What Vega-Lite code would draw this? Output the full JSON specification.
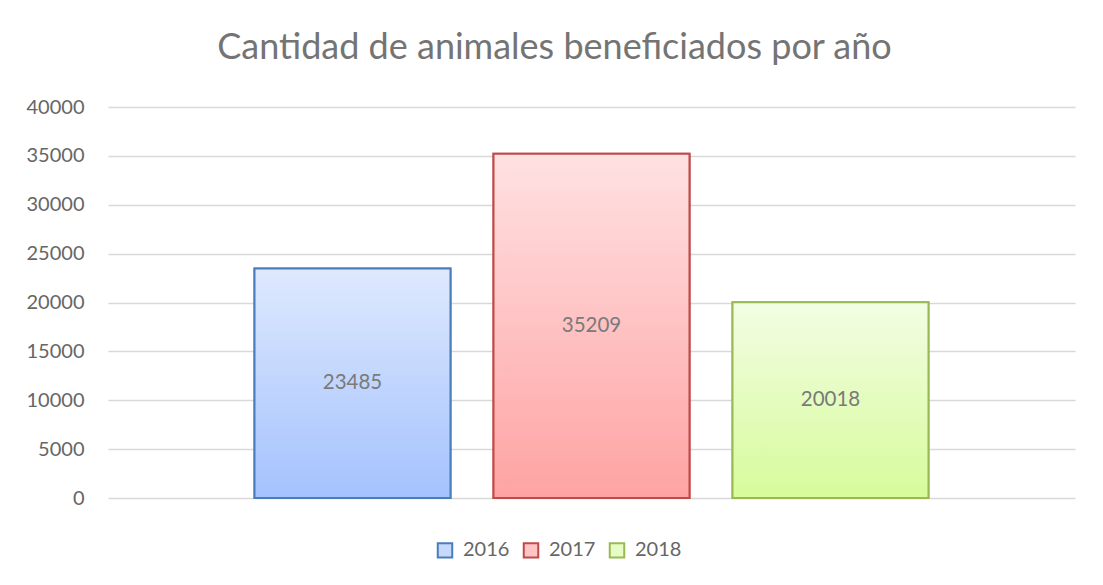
{
  "$schema": "https://vega.github.io/schema/vega-lite/v6.json",
  "autosize": {"type": "none"},
  "width": 967,
  "height": 391,
  "padding": {"left": 108, "top": 107, "right": 28, "bottom": 87},
  "background": "white",
  "title": {
    "text": "Cantidad de animales beneficiados por año",
    "font": "Lato",
    "fontSize": 36,
    "fontWeight": "normal",
    "color": "#747474",
    "anchor": "middle",
    "frame": "bounds",
    "offset": 30,
    "dx": 4
  },
  "data": {
    "values": [
      {"year": "2016", "value": 23485},
      {"year": "2017", "value": 35209},
      {"year": "2018", "value": 20018}
    ]
  },
  "encoding": {
    "x": {
      "field": "year",
      "type": "nominal",
      "axis": null,
      "scale": {"domain": ["2016", "2017", "2018"], "paddingInner": 0.18, "paddingOuter": 0.613}
    },
    "y": {
      "field": "value",
      "type": "quantitative",
      "scale": {"domain": [0, 40000]},
      "axis": {
        "title": null,
        "values": [0, 5000, 10000, 15000, 20000, 25000, 30000, 35000, 40000],
        "format": "d",
        "domain": false,
        "ticks": false,
        "labelPadding": 24,
        "labelFont": "Lato",
        "labelFontSize": 20,
        "labelColor": "#666666",
        "gridColor": "#d9d9d9",
        "gridWidth": 1.3
      }
    }
  },
  "layer": [
    {
      "mark": {"type": "bar", "strokeWidth": 2},
      "encoding": {
        "fill": {
          "field": "year",
          "type": "nominal",
          "scale": {"domain": ["2016", "2017", "2018"], "range": ["#c6d9fd", "#ffc4c4", "#e6fcc4"]},
          "legend": {
            "title": null,
            "orient": "none",
            "direction": "horizontal",
            "legendX": 327,
            "legendY": 433,
            "symbolType": "square",
            "symbolSize": 210,
            "symbolStrokeWidth": 2,
            "labelFont": "Lato",
            "labelFontSize": 20,
            "labelColor": "#666666",
            "columnPadding": 9,
            "labelOffset": 8
          }
        },
        "stroke": {
          "field": "year",
          "type": "nominal",
          "scale": {"domain": ["2016", "2017", "2018"], "range": ["#4a7ebb", "#be4b48", "#98b954"]}
        }
      }
    },
    {
      "transform": [{"filter": "datum.year === '2016'"}],
      "mark": {"type": "bar", "strokeWidth": 2, "stroke": "#4a7ebb", "fill": {"gradient": "linear", "x1": 0, "y1": 0, "x2": 0, "y2": 1, "stops": [{"offset": 0, "color": "#dee9fd"}, {"offset": 1, "color": "#a4c2fd"}]}}
    },
    {
      "transform": [{"filter": "datum.year === '2017'"}],
      "mark": {"type": "bar", "strokeWidth": 2, "stroke": "#be4b48", "fill": {"gradient": "linear", "x1": 0, "y1": 0, "x2": 0, "y2": 1, "stops": [{"offset": 0, "color": "#ffe1e2"}, {"offset": 1, "color": "#fea3a3"}]}}
    },
    {
      "transform": [{"filter": "datum.year === '2018'"}],
      "mark": {"type": "bar", "strokeWidth": 2, "stroke": "#98b954", "fill": {"gradient": "linear", "x1": 0, "y1": 0, "x2": 0, "y2": 1, "stops": [{"offset": 0, "color": "#f2fde3"}, {"offset": 1, "color": "#d7fb9b"}]}}
    },
    {
      "transform": [{"calculate": "datum.value / 2", "as": "mid"}],
      "mark": {"type": "text", "font": "Lato", "fontSize": 20.5, "color": "#7a7a7a", "baseline": "middle"},
      "encoding": {
        "y": {"field": "mid", "type": "quantitative"},
        "text": {"field": "value", "type": "quantitative", "format": "d"}
      }
    }
  ],
  "config": {"view": {"stroke": null}}
}
